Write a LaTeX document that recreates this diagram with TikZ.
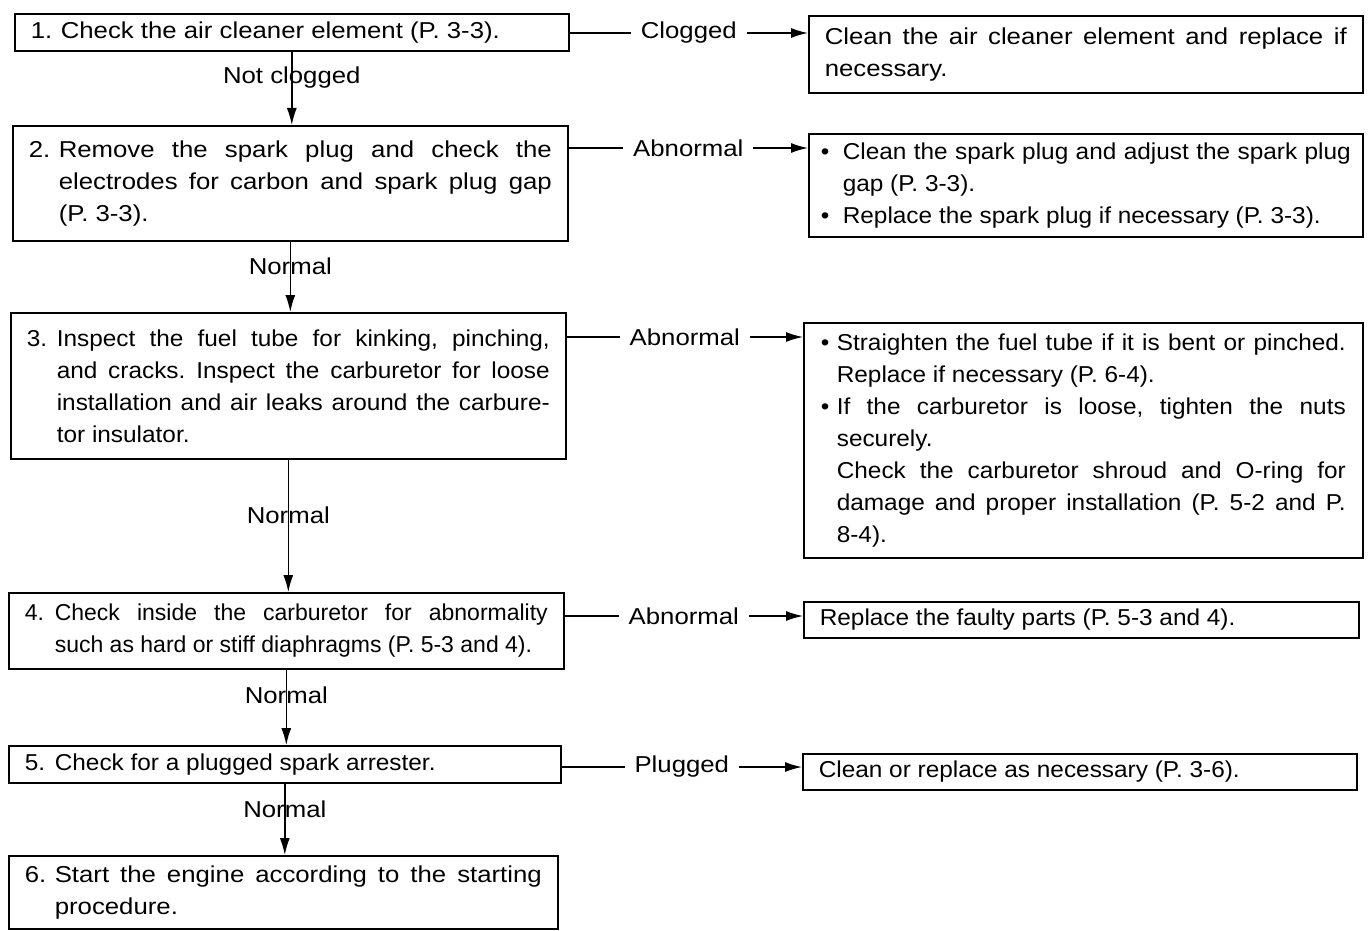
\documentclass[tikz,border=0pt]{standalone}
\usepackage{fontspec}
\setmainfont{Liberation Sans}[FakeStretch=1.06]
\newfontfamily\widefont{Liberation Sans}[FakeStretch=1.12]
\newfontfamily\narrowfont{Liberation Sans}[FakeStretch=1.0]
\usetikzlibrary{arrows.meta}
% step number set in a fixed-width slot so continuation lines align
\newcommand\stepno[1]{\makebox[30pt][l]{#1}}
\newcommand\bul[1]{\makebox[#1][l]{\textbullet}}
% paragraph settings for the boxed texts
\newcommand\boxpar{\frenchspacing\tolerance=10000\relax\hyphenpenalty=10000\relax\exhyphenpenalty=10000\relax}

\begin{document}
\begin{tikzpicture}[x=1pt,y=-1pt,
  box/.style={draw, line width=1.6pt, anchor=north west, inner ysep=0pt, inner xsep=16pt,
    align=justify, font=\fontsize{23}{32}\selectfont},
  conn/.style={line width=1.4pt, -{Latex[length=17pt,width=10pt]}},
  hlbl/.style={fill=white, inner xsep=10pt, inner ysep=2pt, font=\fontsize{23}{28}\selectfont\widefont},
  vlbl/.style={inner sep=0pt, font=\fontsize{23}{28}\selectfont\widefont},
]
\path[use as bounding box] (0,0) rectangle (1370,931);

% main sequence of checks
\node[box, text width=522pt, minimum height=37pt] (b1) at (14,13)
  {\boxpar\widefont\stepno{1.}Check the air cleaner element (P. 3-3).\par};
\node[box, text width=523pt, minimum height=115pt] (b2) at (12,125)
  {\boxpar\widefont\hangindent=30pt\hangafter=1\stepno{2.}Remove the spark plug and check the\linebreak
   electrodes for carbon and spark plug gap\linebreak (P. 3-3).\par};
\node[box, text width=523pt, minimum height=146pt] (b3) at (10,312)
  {\boxpar\hangindent=30pt\hangafter=1\stepno{3.}Inspect the fuel tube for kinking, pinching,\linebreak
   and cracks. Inspect the carburetor for loose\linebreak
   installation and air leaks around the carbure-\linebreak tor insulator.\par};
\node[box, text width=523pt, minimum height=76pt] (b4) at (8,592)
  {\boxpar\narrowfont\hangindent=30pt\hangafter=1\stepno{4.}Check inside the carburetor for abnormality\linebreak
   such as hard or stiff diaphragms (P. 5-3 and 4).\par};
\node[box, text width=520pt, minimum height=37pt] (b5) at (8,745)
  {\boxpar\stepno{5.}Check for a plugged spark arrester.\par};
\node[box, text width=517pt, minimum height=73pt] (b6) at (8,855)
  {\boxpar\widefont\hangindent=30pt\hangafter=1\stepno{6.}Start the engine according to the starting\linebreak procedure.\par};

% remedies
\node[box, text width=522pt, minimum height=77pt] (r1) at (808,15)
  {\boxpar\widefont Clean the air cleaner element and replace if\linebreak necessary.\par};
\node[box, inner xsep=12pt, text width=530pt, minimum height=103pt] (r2) at (808,133)
  {\boxpar\hangindent=22pt\hangafter=1\bul{22pt}Clean the spark plug and adjust the spark plug\linebreak gap (P. 3-3).\par
   \hangindent=22pt\hangafter=1\bul{22pt}Replace the spark plug if necessary (P. 3-3).\par};
\node[box, inner xsep=17pt, text width=525pt, minimum height=235pt] (r3) at (803,322)
  {\boxpar\hangindent=16pt\hangafter=1\bul{16pt}Straighten the fuel tube if it is bent or pinched.\linebreak
   Replace if necessary (P. 6-4).\par
   \hangindent=16pt\hangafter=1\bul{16pt}If the carburetor is loose, tighten the nuts\linebreak securely.\par
   \hangindent=16pt\hangafter=0 Check the carburetor shroud and O-ring for\linebreak
   damage and proper installation (P. 5-2 and P.\linebreak 8-4).\par};
\node[box, text width=523pt, minimum height=36pt] (r4) at (803,601)
  {\boxpar Replace the faulty parts (P. 5-3 and 4).\par};
\node[box, text width=522pt, minimum height=36pt] (r5) at (802,753)
  {\boxpar Clean or replace as necessary (P. 3-6).\par};

% downward flow
\draw[conn] (b1.south) -- node[vlbl,pos=0.35]{Not clogged} (b1.south |- b2.north);
\draw[conn] (b2.south) -- node[vlbl,pos=0.35]{Normal} (b2.south |- b3.north);
\draw[conn] (b3.south) -- node[vlbl,pos=0.42]{Normal} (b3.south |- b4.north);
\draw[conn] (b4.south) -- node[vlbl,pos=0.34]{Normal} (b4.south |- b5.north);
\draw[conn] (b5.south) -- node[vlbl,pos=0.36]{Normal} (b5.south |- b6.north);

% branches to the remedies
\coordinate (h1) at (0,33);
\coordinate (h2) at (0,148);
\coordinate (h3) at (0,337);
\coordinate (h4) at (0,616);
\coordinate (h5) at (0,767);
\draw[conn] (b1.east |- h1) -- node[hlbl]{Clogged} (r1.west |- h1);
\draw[conn] (b2.east |- h2) -- node[hlbl]{Abnormal} (r2.west |- h2);
\draw[conn] (b3.east |- h3) -- node[hlbl]{Abnormal} (r3.west |- h3);
\draw[conn] (b4.east |- h4) -- node[hlbl]{Abnormal} (r4.west |- h4);
\draw[conn] (b5.east |- h5) -- node[hlbl]{Plugged} (r5.west |- h5);
\end{tikzpicture}
\end{document}
